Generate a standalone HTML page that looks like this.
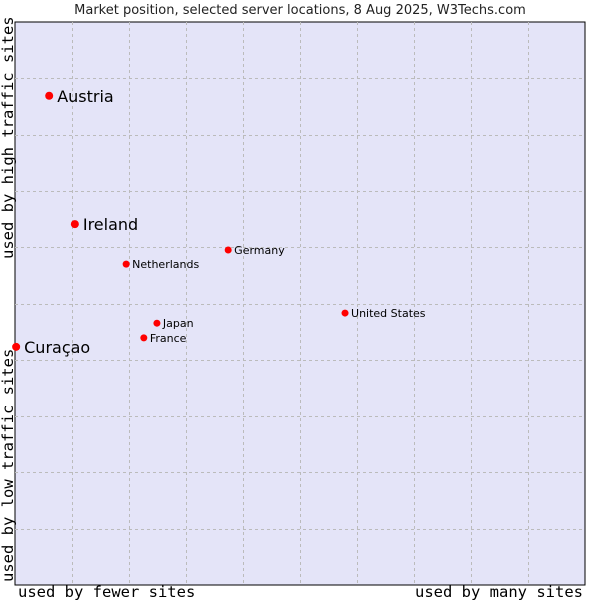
<!DOCTYPE html>
<html><head><meta charset="utf-8"><style>
body{margin:0;background:#fff;width:600px;height:600px;overflow:hidden}
svg{display:block}
</style></head><body>
<svg id="chart" width="600" height="600" xmlns="http://www.w3.org/2000/svg">
<text x="300" y="14" text-anchor="middle" font-family="DejaVu Sans, sans-serif" font-size="13" fill="#222">Market position, selected server locations, 8 Aug 2025, W3Techs.com</text>
<rect x="15" y="22" width="570" height="563" fill="#e4e4f8" stroke="#000" stroke-width="1"/>
<g id="grid"></g>
<g id="points"></g>
<text x="18" y="597" font-family="DejaVu Sans Mono, monospace" font-size="15.5" fill="#000">used by fewer sites</text>
<text x="583" y="597" text-anchor="end" font-family="DejaVu Sans Mono, monospace" font-size="15.5" fill="#000">used by many sites</text>
<text transform="translate(13,582) rotate(-90)" font-family="DejaVu Sans Mono, monospace" font-size="15.5" fill="#000">used by low traffic sites</text>
<text transform="translate(13,259) rotate(-90)" font-family="DejaVu Sans Mono, monospace" font-size="15.5" fill="#000">used by high traffic sites</text>
</svg>
<script>
const countries = ["Austria","Ireland","Netherlands","Germany","United States","Japan","France","Curaçao"];
const xValues = [6.0,10.5,19.5,37.4,57.9,24.9,22.6,0.2];
const yValues = [86.9,64.1,57.0,59.5,48.3,46.5,43.9,42.3];
const bigLabel = [true,true,false,false,false,false,false,true];
const NS="http://www.w3.org/2000/svg";
const L=15,R=585,T=22,B=585;
const xs=v=>L+v/100*(R-L);
const ys=v=>B-v/100*(B-T);
const grid=document.getElementById('grid');
for(let i=1;i<10;i++){
  const gx=document.createElementNS(NS,'line');
  
  
  const x=Math.round(xs(i*10))+0.5;
  gx.setAttribute('x1',x);gx.setAttribute('x2',x);gx.setAttribute('y1',T);gx.setAttribute('y2',B);
  gx.setAttribute('stroke','#bbb');gx.setAttribute('stroke-dasharray','3,3');
  grid.appendChild(gx);
  const gy=document.createElementNS(NS,'line');
  
  
  const y=Math.round(ys(i*10))+0.5;
  gy.setAttribute('x1',L);gy.setAttribute('x2',R);gy.setAttribute('y1',y);gy.setAttribute('y2',y);
  gy.setAttribute('stroke','#bbb');gy.setAttribute('stroke-dasharray','3,3');
  grid.appendChild(gy);
}
const pts=document.getElementById('points');
countries.forEach((c,i)=>{
  const x=xs(xValues[i]),y=ys(yValues[i]);
  const d=document.createElementNS(NS,'circle');
  
  
  d.setAttribute('cx',x);d.setAttribute('cy',y);d.setAttribute('r',bigLabel[i]?4:3.5);d.setAttribute('fill','#f00');
  pts.appendChild(d);
  const t=document.createElementNS(NS,'text');
  
  
  t.setAttribute('x',x+(bigLabel[i]?8:6));
  t.setAttribute('y',y+(bigLabel[i]?6:4));
  t.setAttribute('font-family','DejaVu Sans, sans-serif');
  t.setAttribute('font-size',bigLabel[i]?16:11);
  t.setAttribute('fill','#000');
  t.textContent=c;
  pts.appendChild(t);
});
</script>
</body></html>
